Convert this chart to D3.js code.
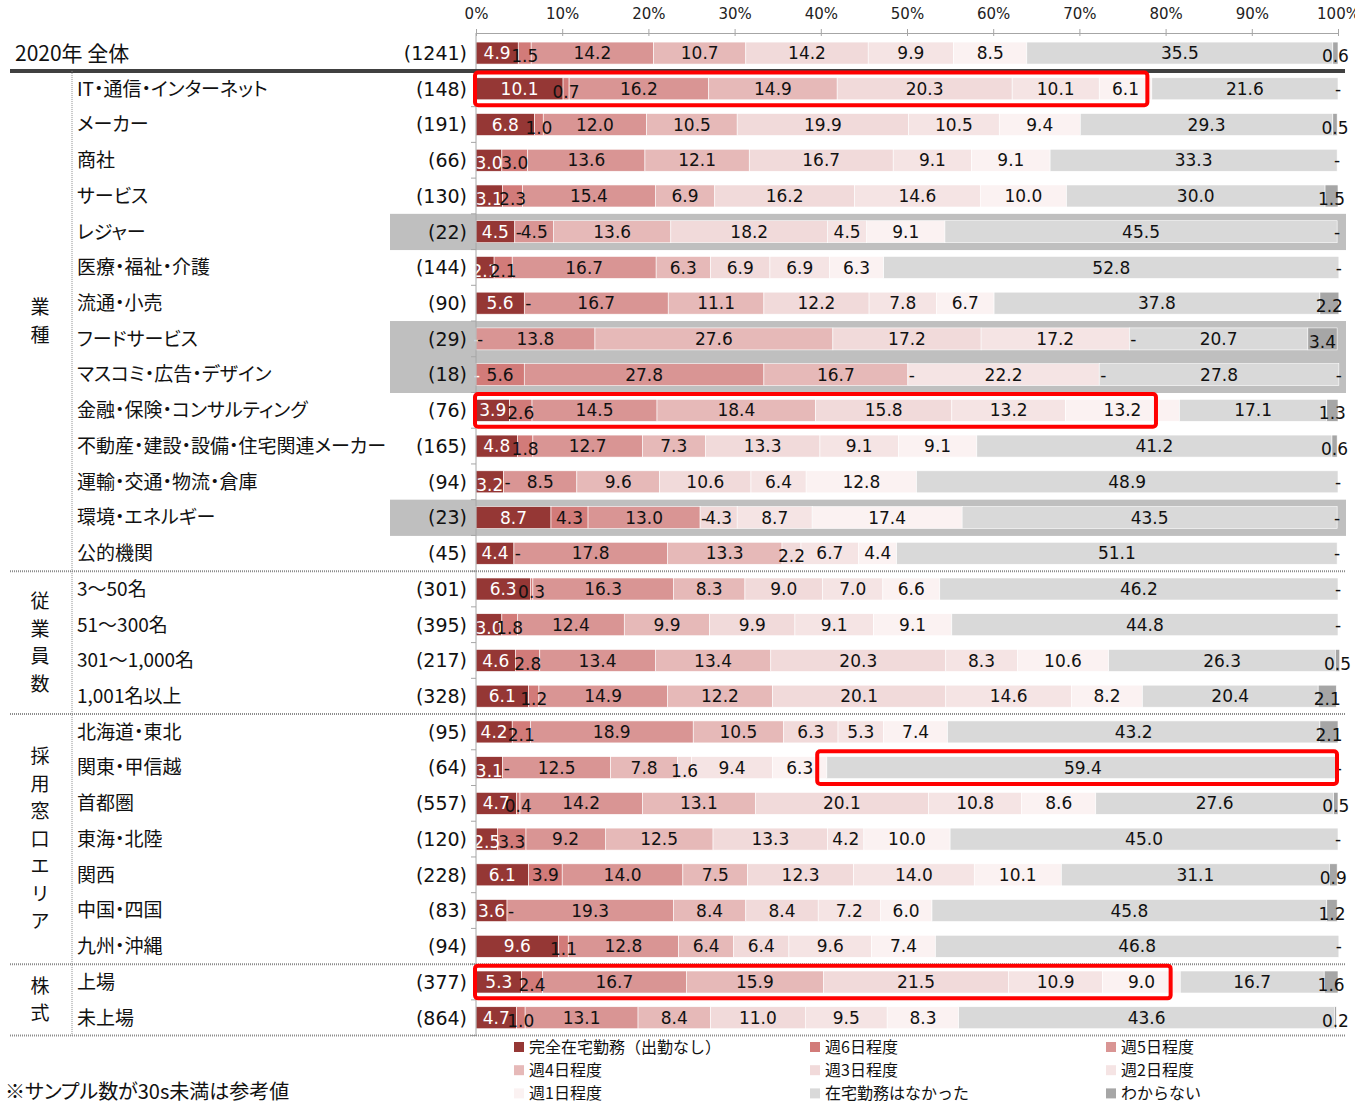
<!DOCTYPE html>
<html>
<head>
<meta charset="utf-8">
<script src="https://cdn.jsdelivr.net/npm/d3@7"></script>
<style>
body { margin: 0; background: #fff; }
text { font-family: "Noto Sans CJK JP", sans-serif; font-feature-settings: "palt"; }
.num { font-family: "DejaVu Sans", sans-serif; font-feature-settings: normal; }
.leg { font-feature-settings: normal; }
</style>
</head>
<body>
<svg id="chart"></svg>
<script>
// Data
var categories = ["2020年 全体", "IT・通信・インターネット", "メーカー", "商社", "サービス", "レジャー",
    "医療・福祉・介護", "流通・小売", "フードサービス", "マスコミ・広告・デザイン", "金融・保険・コンサルティング",
    "不動産・建設・設備・住宅関連メーカー", "運輸・交通・物流・倉庫", "環境・エネルギー", "公的機関",
    "3～50名", "51～300名", "301～1,000名", "1,001名以上",
    "北海道・東北", "関東・甲信越", "首都圏", "東海・北陸", "関西", "中国・四国", "九州・沖縄",
    "上場", "未上場"];
var counts = [1241, 148, 191, 66, 130, 22, 144, 90, 29, 18, 76, 165, 94, 23, 45,
    301, 395, 217, 328, 95, 64, 557, 120, 228, 83, 94, 377, 864];
var series = ["完全在宅勤務（出勤なし）", "週6日程度", "週5日程度", "週4日程度", "週3日程度",
    "週2日程度", "週1日程度", "在宅勤務はなかった", "わからない"];
var values = [
    [4.9, 1.5, 14.2, 10.7, 14.2, 9.9, 8.5, 35.5, 0.6],
    [10.1, 0.7, 16.2, 14.9, 20.3, 10.1, 6.1, 21.6, 0],
    [6.8, 1.0, 12.0, 10.5, 19.9, 10.5, 9.4, 29.3, 0.5],
    [3.0, 3.0, 13.6, 12.1, 16.7, 9.1, 9.1, 33.3, 0],
    [3.1, 2.3, 15.4, 6.9, 16.2, 14.6, 10.0, 30.0, 1.5],
    [4.5, 0, 4.5, 13.6, 18.2, 4.5, 9.1, 45.5, 0],
    [2.1, 2.1, 16.7, 6.3, 6.9, 6.9, 6.3, 52.8, 0],
    [5.6, 0, 16.7, 11.1, 12.2, 7.8, 6.7, 37.8, 2.2],
    [0, 0, 13.8, 27.6, 17.2, 17.2, 0, 20.7, 3.4],
    [0, 5.6, 27.8, 16.7, 0, 22.2, 0, 27.8, 0],
    [3.9, 2.6, 14.5, 18.4, 15.8, 13.2, 13.2, 17.1, 1.3],
    [4.8, 1.8, 12.7, 7.3, 13.3, 9.1, 9.1, 41.2, 0.6],
    [3.2, 0, 8.5, 9.6, 10.6, 6.4, 12.8, 48.9, 0],
    [8.7, 4.3, 13.0, 0, 4.3, 8.7, 17.4, 43.5, 0],
    [4.4, 0, 17.8, 13.3, 2.2, 6.7, 4.4, 51.1, 0],
    [6.3, 0.3, 16.3, 8.3, 9.0, 7.0, 6.6, 46.2, 0],
    [3.0, 1.8, 12.4, 9.9, 9.9, 9.1, 9.1, 44.8, 0],
    [4.6, 2.8, 13.4, 13.4, 20.3, 8.3, 10.6, 26.3, 0.5],
    [6.1, 1.2, 14.9, 12.2, 20.1, 14.6, 8.2, 20.4, 2.1],
    [4.2, 2.1, 18.9, 10.5, 6.3, 5.3, 7.4, 43.2, 2.1],
    [3.1, 0, 12.5, 7.8, 1.6, 9.4, 6.3, 59.4, 0],
    [4.7, 0.4, 14.2, 13.1, 20.1, 10.8, 8.6, 27.6, 0.5],
    [2.5, 3.3, 9.2, 12.5, 13.3, 4.2, 10.0, 45.0, 0],
    [6.1, 3.9, 14.0, 7.5, 12.3, 14.0, 10.1, 31.1, 0.9],
    [3.6, 0, 19.3, 8.4, 8.4, 7.2, 6.0, 45.8, 1.2],
    [9.6, 1.1, 12.8, 6.4, 6.4, 9.6, 7.4, 46.8, 0],
    [5.3, 2.4, 16.7, 15.9, 21.5, 10.9, 9.0, 16.7, 1.6],
    [4.7, 1.0, 13.1, 8.4, 11.0, 9.5, 8.3, 43.6, 0.2]
];
var groupNames = ["業種", "従業員数", "採用窓口エリア", "株式"];
var groupFirst = ["IT・通信・インターネット", "3～50名", "北海道・東北", "上場"];
var groupLast = ["公的機関", "1,001名以上", "九州・沖縄", "未上場"];
var smallSampleRows = ["レジャー", "フードサービス", "マスコミ・広告・デザイン", "環境・エネルギー"];
var highlightRows = ["IT・通信・インターネット", "金融・保険・コンサルティング", "関東・甲信越", "上場"];
var highlightFrom = [0, 0, 39.7, 0];
var highlightTo = [78, 79, 100, 80.7];
var tickValues = [0, 10, 20, 30, 40, 50, 60, 70, 80, 90, 100];
var note = "※サンプル数が30s未満は参考値";

var colors = ["#953735", "#d27b79", "#d99594", "#e6b9b8", "#f1dada", "#f5e4e4", "#fbf2f2", "#d9d9d9", "#a6a6a6"];

var W = 1355, H = 1104;
var svg = d3.select("#chart").attr("width", W).attr("height", H);

var x = d3.scaleLinear().domain([0, 100]).range([476, 1338]);
var y = d3.scaleBand().domain(categories).range([35.2, 1035.6]);
var bw = y.bandwidth();
var barH = 22;
var color = d3.scaleOrdinal().domain(series).range(colors);

// table for the stack
var table = categories.map(function(c, i) {
    var row = { name: c };
    series.forEach(function(s, j) { row[s] = values[i][j]; });
    return row;
});
var stacked = d3.stack().keys(series)(table);

// gray background for rows with small samples
svg.selectAll(".smallbg")
    .data(smallSampleRows)
    .enter().append("rect")
    .attr("x", 390)
    .attr("y", function(d) { return y(d); })
    .attr("width", 1346 - 390)
    .attr("height", bw + 0.5)
    .attr("fill", "#bfbfbf");

// bars
var layer = svg.selectAll(".layer")
    .data(stacked)
    .enter().append("g")
    .attr("fill", function(d) { return color(d.key); });

layer.selectAll("rect")
    .data(function(d) { return d; })
    .enter().append("rect")
    .attr("x", function(d) { return x(d[0]); })
    .attr("y", function(d) { return y(d.data.name) + (bw - barH) / 2; })
    .attr("width", function(d) { return Math.max(0, x(d[1]) - x(d[0])); })
    .attr("height", barH)
    .attr("stroke", "#fff")
    .attr("stroke-width", 0.6);

// value labels
stacked.forEach(function(s, si) {
    svg.append("g").selectAll("text")
        .data(s)
        .enter().append("text")
        .attr("class", "num")
        .attr("x", function(d) {
            var v = d[1] - d[0];
            if (v < 0.05) {
                if (si === 0) return x(d[0]) + 1;
                if (si === series.length - 1) return x(d[0]);
                return x(d[0]) + 4;
            }
            return x((d[0] + d[1]) / 2);
        })
        .attr("y", function(d) {
            var v = d[1] - d[0];
            var off = (v > 0.05 && v < 3.5) ? 3 : 0;
            return y(d.data.name) + bw / 2 + off;
        })
        .attr("dy", "0.36em")
        .attr("text-anchor", "middle")
        .attr("font-size", 17)
        .attr("fill", si === 0 ? "#fff" : "#111")
        .text(function(d) {
            var v = d.data[s.key];
            return v === 0 ? "-" : v.toFixed(1);
        });
});

// top axis
var axis = svg.append("g")
    .attr("transform", "translate(0,33)")
    .call(d3.axisTop(x).tickValues(tickValues).tickSize(4).tickPadding(10)
        .tickFormat(function(d) { return d + "%"; }));
axis.select(".domain").attr("stroke", "#a6a6a6");
axis.selectAll(".tick line").attr("stroke", "#a6a6a6").attr("y2", 3).attr("y1", -4);
axis.selectAll("text").attr("class", "num").attr("font-size", 15).attr("fill", "#222");

// left axis of the bars
svg.append("line")
    .attr("x1", x(0)).attr("x2", x(0))
    .attr("y1", 33).attr("y2", 1036)
    .attr("stroke", "#a6a6a6");
svg.selectAll(".ytick")
    .data(categories.slice(1))
    .enter().append("line")
    .attr("x1", x(0) - 5).attr("x2", x(0))
    .attr("y1", function(d) { return y(d) + bw; })
    .attr("y2", function(d) { return y(d) + bw; })
    .attr("stroke", "#a6a6a6");

// separators
svg.append("line")
    .attr("x1", 10).attr("x2", 1345)
    .attr("y1", y(categories[1])).attr("y2", y(categories[1]))
    .attr("stroke", "#404040")
    .attr("stroke-width", 4);

var sepRows = groupFirst.slice(1).map(function(d) { return y(d); }).concat([y(categories[categories.length - 1]) + bw]);
svg.selectAll(".sep")
    .data(sepRows)
    .enter().append("line")
    .attr("x1", 10).attr("x2", 1345)
    .attr("y1", function(d) { return d; })
    .attr("y2", function(d) { return d; })
    .attr("stroke", "#8c8c8c")
    .attr("stroke-width", 2)
    .attr("stroke-dasharray", "1,1");

svg.append("line")
    .attr("x1", 72).attr("x2", 72)
    .attr("y1", y(categories[1])).attr("y2", y(categories[categories.length - 1]) + bw)
    .attr("stroke", "#8c8c8c")
    .attr("stroke-width", 1)
    .attr("stroke-dasharray", "1,1");

// row labels
svg.selectAll(".catlabel")
    .data(categories)
    .enter().append("text")
    .attr("x", function(d, i) { return i === 0 ? 15 : 77; })
    .attr("y", function(d) { return y(d) + bw / 2; })
    .attr("dy", "0.36em")
    .attr("font-size", function(d, i) { return i === 0 ? 21 : 19; })
    .attr("fill", "#111")
    .text(function(d) { return d; });

svg.selectAll(".countlabel")
    .data(categories)
    .enter().append("text")
    .attr("class", "num")
    .attr("x", 467)
    .attr("y", function(d) { return y(d) + bw / 2; })
    .attr("dy", "0.36em")
    .attr("text-anchor", "end")
    .attr("font-size", 19)
    .attr("fill", "#111")
    .text(function(d, i) { return "(" + counts[i] + ")"; });

// group labels (vertical)
groupNames.forEach(function(g, gi) {
    var top = y(groupFirst[gi]), bottom = y(groupLast[gi]) + bw;
    var mid = (top + bottom) / 2;
    var chars = g.split("");
    var pitch = 27.5;
    svg.append("g").selectAll("text")
        .data(chars)
        .enter().append("text")
        .attr("x", 40)
        .attr("y", function(d, i) { return mid + (i - (chars.length - 1) / 2) * pitch; })
        .attr("dy", "0.36em")
        .attr("text-anchor", "middle")
        .attr("font-size", 19)
        .attr("fill", "#111")
        .text(function(d) { return d; });
});

// highlight boxes
svg.selectAll(".hl")
    .data(highlightRows)
    .enter().append("rect")
    .attr("x", function(d, i) { return x(highlightFrom[i]) - 1; })
    .attr("y", function(d) { return y(d) + 1.5; })
    .attr("width", function(d, i) { return x(highlightTo[i]) - x(highlightFrom[i]); })
    .attr("height", bw - 3)
    .attr("rx", 3)
    .attr("fill", "none")
    .attr("stroke", "#ff0000")
    .attr("stroke-width", 4);

// legend
var legend = svg.append("g");
series.forEach(function(s, i) {
    var col = i % 3, row = Math.floor(i / 3);
    var lx = 514 + col * 296, ly = 1047 + row * 23.2;
    legend.append("rect")
        .attr("x", lx).attr("y", ly - 5)
        .attr("width", 10).attr("height", 10)
        .attr("fill", color(s));
    legend.append("text")
        .attr("class", "leg")
        .attr("x", lx + 15).attr("y", ly)
        .attr("dy", "0.36em")
        .attr("font-size", 16)
        .attr("fill", "#111")
        .text(s);
});

svg.append("text")
    .attr("x", 5).attr("y", 1092)
    .attr("dy", "0.36em")
    .attr("font-size", 20)
    .attr("fill", "#111")
    .text(note);
</script>
</body>
</html>
